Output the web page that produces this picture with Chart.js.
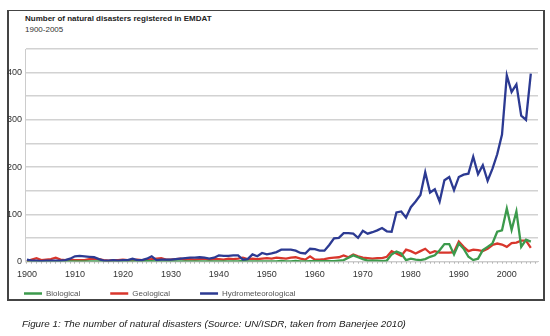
<!DOCTYPE html>
<html>
<head>
<meta charset="utf-8">
<script src="https://cdn.jsdelivr.net/npm/chart.js@4.4.0/dist/chart.umd.min.js"></script>
<style>
  body { margin: 0; background: #fff; font-family: "Liberation Sans", Arial, sans-serif; }
  #frame {
    position: absolute; left: 7px; top: 10px; width: 534px; height: 288px;
    border: 1px solid #444; border-left-width: 2px; border-right-width: 2px; border-bottom-width: 2px;
  }
  #title { position: absolute; left: 25px; top: 14px; font-size: 8px; font-weight: bold; color: #222; }
  #subtitle { position: absolute; left: 25px; top: 25px; font-size: 8px; color: #333; }
  #caption { position: absolute; left: 22px; top: 318px; font-size: 9.8px; font-style: italic; color: #222; }
  #chart { position: absolute; left: 0; top: 0; }
</style>
</head>
<body>
<div id="frame"></div>
<div id="title">Number of natural disasters registered in EMDAT</div>
<div id="subtitle">1900-2005</div>
<canvas id="chart" width="550" height="336"></canvas>
<div id="caption">Figure 1: The number of natural disasters (Source: UN/ISDR, taken from Banerjee 2010)</div>

<script>
// years 1900-2005
const years = Array.from({ length: 106 }, (_, i) => 1900 + i);

const biological = [
    1, 1, 0, 0, 0, 0, 0, 0, 0, 0,
    0, 0, 0, 0, 0, 0, 0, 0, 0, 0,
    0, 0, 0, 0, 0, 1, 1, 0, 0, 0,
    0, 0, 0, 0, 0, 0, 0, 0, 0, 0,
    0, 0, 0, 0, 0, 1, 0, 0, 0, 0,
    0, 0, 0, 1, 0, 0, 1, 0, 0, 1,
    1, 1, 1, 1, 1, 2, 3, 8, 13, 9,
    5, 2, 2, 2, 1, 2, 15, 21, 17, 3,
    6, 4, 3, 5, 10, 13, 24, 37, 37, 15,
    38, 27, 10, 3, 6, 24, 31, 38, 63, 66,
    112, 67, 106, 31, 46, 42
];

const geological = [
    1, 4, 7, 3, 4, 5, 8, 4, 3, 4,
    3, 3, 3, 5, 6, 5, 3, 2, 3, 3,
    4, 3, 3, 4, 3, 4, 5, 6, 7, 4,
    4, 5, 6, 4, 5, 4, 5, 6, 4, 5,
    5, 4, 6, 5, 6, 8, 5, 6, 5, 6,
    7, 6, 8, 7, 6, 8, 9, 6, 4, 11,
    4, 4, 5, 7, 8, 9, 13, 9, 15, 11,
    8, 7, 6, 7, 7, 10, 22, 17, 12, 25,
    22, 17, 22, 27, 18, 22, 19, 19, 19, 20,
    42, 31, 22, 25, 24, 22, 27, 35, 38, 36,
    31, 39, 40, 44, 44, 29
];

const hydrometeorological = [
    4, 2, 2, 1, 2, 2, 2, 2, 3, 6,
    11, 12, 11, 10, 9, 5, 2, 2, 3, 2,
    3, 3, 6, 3, 3, 6, 11, 3, 4, 4,
    4, 5, 6, 7, 8, 8, 9, 8, 6, 8,
    13, 12, 12, 13, 13, 4, 5, 15, 11, 18,
    15, 17, 20, 25, 25, 25, 23, 18, 17, 27,
    26, 23, 23, 35, 49, 50, 60, 60, 59, 50,
    65, 59, 62, 66, 71, 64, 63, 104, 106, 93,
    115, 127, 141, 189, 146, 153, 127, 172, 179, 151,
    179, 184, 186, 222, 185, 204, 171, 196, 227, 269,
    394, 359, 375, 309, 300, 398
];

const yTicks = [0, 100, 200, 300, 400];

function toPoints(values) {
    return values.map((v, i) => ({ x: years[i], y: v }));
}

function series(label, values, color, order) {
    return {
        label: label,
        data: toPoints(values),
        borderColor: color,
        backgroundColor: color,
        borderWidth: 2.3,
        pointRadius: 0,
        tension: 0,
        fill: false,
        order: order
    };
}

const tickFont = { family: "Liberation Sans", size: 9 };

// put the legend row where the original has it
const legendPlacer = {
    id: "legendPlacer",
    afterLayout(chart) {
        chart.legend.top = 259.5;
        chart.legend.left = -6;
    }
};

new Chart(document.getElementById("chart"), {
    type: "line",
    data: {
        datasets: [
            series("Biological", biological, "#3c9a4c", 1),
            series("Geological", geological, "#d8362c", 2),
            series("Hydrometeorological", hydrometeorological, "#2c3a92", 0)
        ]
    },
    plugins: [legendPlacer],
    options: {
        responsive: false,
        animation: false,
        layout: { padding: { left: 5, top: 49, right: 12, bottom: 34.5 } },
        plugins: {
            tooltip: { enabled: false },
            legend: {
                position: "bottom",
                align: "start",
                maxHeight: 20,
                labels: {
                    usePointStyle: true,
                    pointStyle: "line",
                    pointStyleWidth: 18,
                    boxHeight: 8,
                    padding: 30,
                    color: "#555",
                    font: { family: "Liberation Sans", size: 8 },
                    sort: (a, b) => a.datasetIndex - b.datasetIndex
                }
            }
        },
        scales: {
            x: {
                type: "linear",
                weight: 1,
                min: 1899.6,
                max: 2006.5,
                afterFit: (scale) => { scale.height = 20; },
                border: { display: true, color: "#ccc" },
                grid: { drawOnChartArea: false, drawTicks: false },
                ticks: {
                    stepSize: 10,
                    includeBounds: false,
                    autoSkip: false,
                    maxRotation: 0,
                    padding: 8,
                    color: "#333",
                    font: tickFont,
                    callback: (v) => String(v)
                }
            },
            // yearly tick marks along the base line
            xMinor: {
                type: "linear",
                position: "bottom",
                weight: 0,
                min: 1899.6,
                max: 2006.5,
                afterFit: (scale) => { scale.height = 0; },
                border: { display: false },
                grid: { drawOnChartArea: false, drawTicks: true, tickLength: 2, color: "#999" },
                ticks: {
                    display: false,
                    stepSize: 1,
                    includeBounds: false,
                    autoSkip: false,
                    maxTicksLimit: 1000
                }
            },
            y: {
                min: 0,
                max: 450,
                afterFit: (scale) => { scale.width = 20; },
                border: { display: true, color: "#ccc" },
                grid: { color: "#d2d2d2", lineWidth: 1.5, drawTicks: false },
                ticks: {
                    stepSize: 50,
                    padding: 3,
                    color: "#333",
                    font: tickFont,
                    callback: (v) => (yTicks.includes(v) ? String(v) : "")
                }
            }
        }
    }
});
</script>
</body>
</html>
